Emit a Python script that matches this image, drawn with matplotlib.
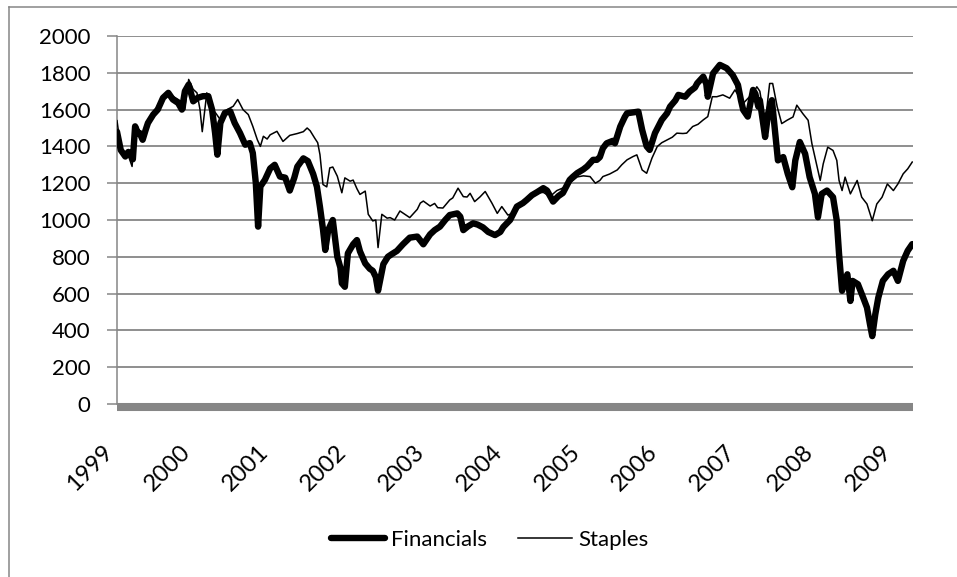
import matplotlib
matplotlib.use("Agg")
import matplotlib.pyplot as plt
from matplotlib.lines import Line2D

# ---- data (x in years since start of 1999) ----
fin_t = [0.00, 0.03, 0.05, 0.11, 0.15, 0.17, 0.21, 0.24, 0.28, 0.30, 0.34, 0.38, 0.41, 0.48, 0.54,
         0.61, 0.68, 0.74, 0.81, 0.86, 0.90, 0.95, 1.01, 1.07, 1.14, 1.21, 1.26, 1.30, 1.33, 1.37,
         1.43, 1.50, 1.56, 1.63, 1.70, 1.76, 1.80, 1.84, 1.87, 1.90, 1.96, 2.03, 2.09, 2.16, 2.23,
         2.29, 2.35, 2.39, 2.47, 2.53, 2.60, 2.65, 2.69, 2.73, 2.76, 2.80, 2.86, 2.92, 2.96, 2.98,
         3.02, 3.06, 3.13, 3.18, 3.22, 3.29, 3.35, 3.39, 3.43, 3.46, 3.50, 3.53, 3.59, 3.64, 3.71,
         3.79, 3.88, 3.98, 4.06, 4.15, 4.21, 4.28, 4.35, 4.41, 4.51, 4.55, 4.59, 4.65, 4.72, 4.78,
         4.85, 4.92, 5.01, 5.08, 5.12, 5.21, 5.30, 5.38, 5.43, 5.50, 5.57, 5.65, 5.70, 5.78, 5.85,
         5.91, 6.00, 6.04, 6.10, 6.18, 6.23, 6.31, 6.36, 6.40, 6.44, 6.49, 6.57, 6.60, 6.67, 6.73,
         6.76, 6.84, 6.91, 6.96, 7.00, 7.02, 7.06, 7.13, 7.22, 7.29, 7.33, 7.40, 7.44, 7.53, 7.59,
         7.66, 7.69, 7.77, 7.81, 7.83, 7.90, 7.99, 8.08, 8.16, 8.23, 8.27, 8.30, 8.36, 8.43, 8.46,
         8.50, 8.52, 8.59, 8.63, 8.68, 8.72, 8.76, 8.83, 8.89, 8.95, 8.99, 9.05, 9.12, 9.18, 9.25,
         9.29, 9.34, 9.41, 9.49, 9.54, 9.57, 9.61, 9.68, 9.72, 9.75, 9.82, 9.89, 9.94, 9.98, 10.01,
         10.05, 10.09, 10.15, 10.22, 10.29, 10.35, 10.42, 10.48, 10.54]
financials = [1480, 1420, 1380, 1345, 1370, 1364, 1330, 1509, 1470, 1473, 1436, 1490, 1527, 1573, 1600,
              1664, 1691, 1655, 1636, 1600, 1700, 1736, 1645, 1664, 1673, 1673, 1600, 1473, 1355, 1527,
              1582, 1591, 1527, 1473, 1409, 1418, 1364, 1200, 964, 1182, 1218, 1280, 1300, 1236, 1230,
              1160, 1230, 1290, 1335, 1320, 1250, 1180, 1071, 950, 837, 946, 1000, 800, 742, 656,
              637, 819, 868, 891, 830, 764, 735, 724, 690, 616, 700, 760, 800, 814, 832,
              868, 904, 910, 868, 922, 945, 964, 1000, 1027, 1036, 1018, 945, 965, 982, 975,
              960, 935, 918, 935, 962, 1000, 1073, 1092, 1109, 1135, 1152, 1173, 1160, 1100, 1130,
              1147, 1218, 1234, 1255, 1275, 1291, 1327, 1327, 1342, 1390, 1417, 1430, 1417, 1508, 1560,
              1580, 1585, 1589, 1490, 1430, 1400, 1381, 1472, 1544, 1580, 1616, 1650, 1680, 1670, 1698,
              1720, 1743, 1779, 1740, 1670, 1797, 1843, 1825, 1788, 1734, 1650, 1598, 1562, 1707, 1687,
              1616, 1651, 1451, 1578, 1651, 1487, 1324, 1342, 1251, 1178, 1324, 1424, 1360, 1233, 1142,
              1015, 1142, 1160, 1124, 996, 815, 615, 705, 560, 669, 651, 578, 524, 433, 369,
              487, 578, 669, 705, 724, 669, 778, 833, 869]

sta_t = [0.00, 0.03, 0.05, 0.11, 0.15, 0.20, 0.24, 0.30, 0.34, 0.41, 0.48, 0.57, 0.61, 0.70, 0.74,
         0.83, 0.90, 0.95, 1.01, 1.06, 1.10, 1.13, 1.17, 1.19, 1.23, 1.27, 1.31, 1.37, 1.40, 1.46,
         1.54, 1.60, 1.67, 1.74, 1.80, 1.86, 1.90, 1.94, 1.99, 2.03, 2.12, 2.20, 2.29, 2.39, 2.47,
         2.52, 2.56, 2.62, 2.66, 2.69, 2.73, 2.78, 2.82, 2.86, 2.92, 2.98, 3.02, 3.09, 3.13, 3.18,
         3.22, 3.29, 3.33, 3.39, 3.43, 3.46, 3.51, 3.58, 3.62, 3.68, 3.75, 3.82, 3.88, 3.98, 4.02,
         4.06, 4.15, 4.21, 4.25, 4.32, 4.41, 4.45, 4.52, 4.59, 4.64, 4.68, 4.74, 4.81, 4.88, 4.97,
         5.04, 5.10, 5.18, 5.25, 5.31, 5.38, 5.47, 5.57, 5.65, 5.74, 5.83, 5.91, 6.00, 6.10, 6.18,
         6.27, 6.34, 6.40, 6.44, 6.53, 6.63, 6.69, 6.76, 6.84, 6.89, 6.96, 7.02, 7.09, 7.16, 7.22,
         7.29, 7.36, 7.42, 7.50, 7.55, 7.63, 7.70, 7.77, 7.83, 7.89, 7.95, 8.03, 8.12, 8.19, 8.26,
         8.30, 8.36, 8.43, 8.48, 8.52, 8.59, 8.65, 8.69, 8.75, 8.81, 8.88, 8.96, 9.01, 9.09, 9.16,
         9.21, 9.28, 9.32, 9.36, 9.42, 9.49, 9.54, 9.57, 9.61, 9.65, 9.72, 9.81, 9.87, 9.94, 10.01,
         10.07, 10.14, 10.21, 10.29, 10.35, 10.42, 10.48, 10.54]
staples = [1540, 1450, 1382, 1340, 1350, 1291, 1518, 1480, 1455, 1530, 1582, 1640, 1673, 1690, 1673,
           1650, 1600, 1764, 1710, 1691, 1600, 1480, 1620, 1691, 1660, 1600, 1580, 1545, 1560, 1600,
           1618, 1655, 1600, 1573, 1509, 1436, 1400, 1455, 1440, 1463, 1482, 1427, 1460, 1470, 1480,
           1500, 1485, 1445, 1420, 1355, 1193, 1180, 1283, 1288, 1238, 1148, 1229, 1211, 1217, 1170,
           1139, 1157, 1031, 995, 1000, 850, 1031, 1010, 1013, 1000, 1049, 1030, 1013, 1058, 1092,
           1103, 1076, 1090, 1067, 1065, 1109, 1120, 1173, 1127, 1125, 1145, 1100, 1125, 1155, 1091,
           1036, 1073, 1027, 1036, 1060, 1092, 1120, 1147, 1150, 1128, 1160, 1174, 1200, 1234, 1240,
           1236, 1200, 1215, 1236, 1250, 1272, 1300, 1327, 1345, 1354, 1272, 1254, 1336, 1399, 1420,
           1435, 1450, 1472, 1470, 1472, 1508, 1520, 1544, 1562, 1670, 1670, 1680, 1662, 1707, 1660,
           1634, 1660, 1689, 1724, 1700, 1524, 1742, 1742, 1615, 1524, 1542, 1560, 1624, 1578, 1542,
           1415, 1287, 1215, 1305, 1396, 1378, 1324, 1215, 1160, 1233, 1142, 1215, 1124, 1087, 996,
           1087, 1124, 1196, 1160, 1196, 1251, 1278, 1315]

start_year = 1999
year_labels = ["1999", "2000", "2001", "2002", "2003", "2004",
               "2005", "2006", "2007", "2008", "2009"]
label_step = 260 / 252        # labels every 260 trading days
y_ticks = [0, 200, 400, 600, 800, 1000, 1200, 1400, 1600, 1800, 2000]

fin_x = [start_year + t for t in fin_t]
sta_x = [start_year + t for t in sta_t]

# ---- figure ----
plt.rcParams['font.family'] = ['Lato', 'DejaVu Sans']
GRAY = '#868686'
fig = plt.figure(figsize=(9.57, 5.77), dpi=100)

# chart-area border (extends past the image at right and bottom)
fig.add_artist(Line2D([9/957, 9/957], [0, 1 - 7/577], color=GRAY, lw=1.1,
                      transform=fig.transFigure))
fig.add_artist(Line2D([9/957, 1], [1 - 7/577, 1 - 7/577], color=GRAY, lw=1.1,
                      transform=fig.transFigure))

ax = fig.add_axes([117/957, 1 - 404/577, 796/957, 368/577])
ax.plot(fin_x, financials, color='black', lw=4.6, solid_joinstyle='round',
        solid_capstyle='round', label='Financials', zorder=3)
ax.plot(sta_x, staples, color='black', lw=1.1, label='Staples', zorder=4)

ax.set_ylim(0, 2000)
ax.set_xlim(start_year, start_year + 10.55)
ax.set_yticks(y_ticks)
ax.set_yticklabels([str(v) for v in y_ticks])
ax.yaxis.grid(True, color=GRAY, lw=1.3)
ax.set_axisbelow(True)

for s in ['top', 'right']:
    ax.spines[s].set_visible(False)
ax.spines['left'].set_color(GRAY)
ax.spines['left'].set_linewidth(1.1)
ax.spines['bottom'].set_color(GRAY)
ax.spines['bottom'].set_linewidth(5.8)
ax.spines['bottom'].set_capstyle('butt')
ax.spines['bottom'].set_position(('outward', 2))

ax.tick_params(axis='y', length=7.2, width=1.1, color=GRAY, direction='out',
               labelsize=16, pad=12)
ax.tick_params(axis='x', length=0, labelsize=17, pad=25)

xt = [start_year + i * label_step for i in range(len(year_labels))]
ax.set_xticks(xt)
ax.set_xticklabels(year_labels)
for lbl in ax.get_xticklabels():
    lbl.set_rotation(45)
    lbl.set_rotation_mode('default')
    lbl.set_ha('right')
    lbl.set_va('top')

leg = fig.legend(loc='center', bbox_to_anchor=(490/957, 1 - 540/577), ncol=2,
                 frameon=False, fontsize=16, handlelength=2.4, handletextpad=0.3,
                 columnspacing=1.4)

fig.savefig('out.png', dpi=100)
